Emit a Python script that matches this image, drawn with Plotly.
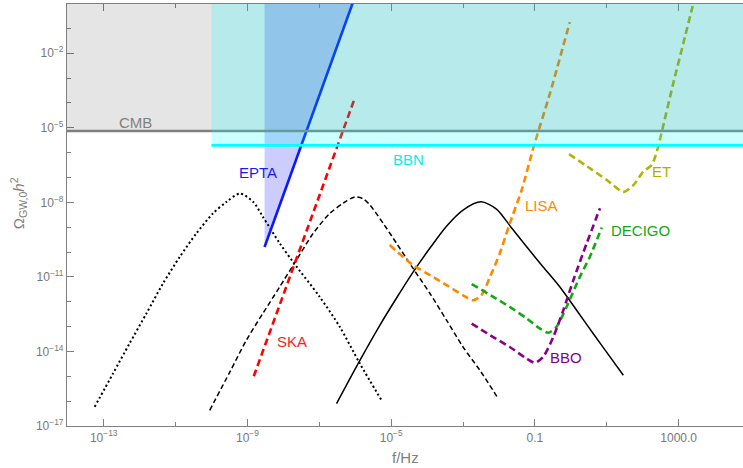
import numpy as np
import plotly.graph_objects as go

# ---------------- data (log10 f [Hz], log10 Omega h^2) ----------------
logf_dotted = [-13.25, -12.74, -12.28, -11.81, -11.35, -10.88, -10.42, -9.96, -9.58, -9.21,
               -8.84, -8.57, -8.10, -7.73, -6.99, -6.43, -5.87, -5.27]
logo_dotted = [-16.23, -14.89, -13.68, -12.47, -11.27, -10.19, -9.25, -8.45, -7.98, -7.65,
               -7.98, -8.58, -9.65, -10.40, -11.80, -13.01, -14.49, -15.96]

logf_dashed = [-10.05, -9.49, -9.03, -8.57, -8.10, -7.64, -7.17, -6.71, -6.34, -6.01, -5.78,
               -5.59, -5.22, -4.85, -4.39, -3.92, -3.46, -3.00, -2.53, -2.02]
logo_dashed = [-16.37, -14.83, -13.55, -12.47, -11.40, -10.33, -9.25, -8.45, -8.04, -7.78, -7.86,
               -8.11, -8.85, -9.65, -10.66, -11.67, -12.74, -13.82, -14.76, -15.90]

logf_solid = [-6.52, -5.92, -5.32, -4.85, -4.39, -3.92, -3.46, -3.00, -2.50, -2.07, -1.67,
              -1.23, -0.77, -0.31, 0.16, 0.62, 1.09, 1.46]
logo_solid = [-16.10, -14.49, -12.96, -11.85, -10.81, -9.84, -8.96, -8.31, -7.98, -8.27, -8.99,
              -9.79, -10.60, -11.40, -12.34, -13.28, -14.22, -14.96]

logf_lisa = [-5.04, -4.39, -3.92, -3.46, -3.00, -2.72, -2.49, -2.25, -1.98, -1.70, -1.37, -1.03, -0.58, -0.03]
logo_lisa = [-9.72, -10.53, -10.93, -11.33, -11.74, -11.94, -11.74, -11.00, -10.06, -8.85, -7.51, -5.74, -3.61, -0.75]

logf_decigo = [-2.76, -2.16, -1.70, -1.23, -0.86, -0.63, -0.40, -0.12, 0.25, 0.53, 0.86]
logo_decigo = [-11.29, -11.80, -12.21, -12.67, -13.08, -13.25, -13.01, -12.21, -11.00, -10.19, -9.01]

logf_bbo = [-2.76, -2.16, -1.70, -1.23, -1.00, -0.77, -0.49, -0.21, 0.07, 0.44, 0.81]
logo_bbo = [-12.88, -13.42, -13.82, -14.29, -14.46, -14.22, -13.42, -12.34, -11.13, -9.65, -8.24]

logf_et = [-0.05, 0.53, 1.00, 1.46, 1.74, 2.01, 2.25, 2.39, 2.53, 2.85, 3.13, 3.39]
logo_et = [-6.06, -6.63, -7.10, -7.58, -7.31, -6.77, -6.50, -5.96, -5.16, -3.21, -1.60, -0.10]

f_ska = [1.5e-9, 9.8e-7]
omega_ska = [1.0e-15, 1.6e-4]

f_epta = [3.0e-9, 1.0e-6]
omega_epta = [1.6e-10, 2.0]

omega_cmb = 7.4e-6
omega_bbn = 1.95e-6
f_bbn_min = 1.0e-10

x_tickvals = [1e-13, 1e-9, 1e-5, 0.1, 1000.0]
x_ticktext = ["10<sup>\u221213</sup>", "10<sup>\u22129</sup>", "10<sup>\u22125</sup>", "0.1", "1000.0"]
x_minor = [1e-11, 1e-7, 1e-3, 10.0]
y_tickvals = [1e-17, 1e-14, 1e-11, 1e-8, 1e-5, 1e-2]
y_ticktext = ["10<sup>\u221217</sup>", "10<sup>\u221214</sup>", "10<sup>\u221211</sup>",
              "10<sup>\u22128</sup>", "10<sup>\u22125</sup>", "10<sup>\u22122</sup>"]
y_minor = [10.0 ** e for e in range(-16, 0) if e % 3 != 1]

X_RANGE = [-14.02, 4.79]
Y_RANGE = [-17.0, -0.02]

FONT = "Liberation Sans, Arial, sans-serif"
GREY = "#808080"

def p(v):
    return list(10.0 ** np.array(v))

fig = go.Figure()

# black model spectra
fig.add_trace(go.Scatter(x=p(logf_dotted), y=p(logo_dotted), mode="lines",
                         line=dict(color="black", width=2.0, dash="2px,2.6px", shape="spline", smoothing=0.8)))
fig.add_trace(go.Scatter(x=p(logf_dashed), y=p(logo_dashed), mode="lines",
                         line=dict(color="black", width=1.5, dash="5px,3px", shape="spline", smoothing=0.8)))
fig.add_trace(go.Scatter(x=p(logf_solid), y=p(logo_solid), mode="lines",
                         line=dict(color="black", width=1.5, shape="spline", smoothing=0.8)))

# detectors
DASH = "7px,4px"
fig.add_trace(go.Scatter(x=f_ska, y=omega_ska, mode="lines",
                         line=dict(color="#ff0000", width=2.6, dash=DASH)))
fig.add_trace(go.Scatter(x=p(logf_lisa), y=p(logo_lisa), mode="lines",
                         line=dict(color="#ff8800", width=2.6, dash=DASH, shape="spline", smoothing=0.7)))
fig.add_trace(go.Scatter(x=p(logf_decigo), y=p(logo_decigo), mode="lines",
                         line=dict(color="#11aa11", width=2.6, dash=DASH, shape="spline", smoothing=0.7)))
fig.add_trace(go.Scatter(x=p(logf_bbo), y=p(logo_bbo), mode="lines",
                         line=dict(color="#880088", width=2.6, dash=DASH, shape="spline", smoothing=0.7)))
fig.add_trace(go.Scatter(x=p(logf_et), y=p(logo_et), mode="lines",
                         line=dict(color="#b3b300", width=2.6, dash=DASH, shape="spline", smoothing=0.7)))

# EPTA excluded region + bound
fig.add_trace(go.Scatter(x=[f_epta[0], f_epta[1], f_epta[0], f_epta[0]],
                         y=[omega_epta[0], omega_epta[1], omega_epta[1], omega_epta[0]],
                         mode="lines", fill="toself", fillcolor="rgba(0,0,255,0.2)",
                         line=dict(width=0, color="rgba(0,0,0,0)")))
fig.add_trace(go.Scatter(x=f_epta, y=omega_epta, mode="lines",
                         line=dict(color="#0a1aff", width=2.6)))

top = 10.0 ** Y_RANGE[1]
right = 10.0 ** X_RANGE[1]
shapes = [
    dict(type="rect", xref="x domain", yref="y", x0=0, x1=1, y0=omega_cmb, y1=top,
         fillcolor="rgba(0,0,0,0.1)", line=dict(width=0), layer="above"),
    dict(type="line", xref="x domain", yref="y", x0=0, x1=1, y0=omega_cmb, y1=omega_cmb,
         line=dict(color=GREY, width=2.5), layer="above"),
    dict(type="rect", xref="x", yref="y", x0=f_bbn_min, x1=right, y0=omega_bbn, y1=top,
         fillcolor="rgba(0,255,255,0.2)", line=dict(width=0), layer="above"),
    dict(type="line", xref="x", yref="y", x0=f_bbn_min, x1=right, y0=omega_bbn, y1=omega_bbn,
         line=dict(color="#00ffff", width=2.6), layer="above"),
]

labels = [
    ("CMB", -12.11, -4.77, GREY),
    ("EPTA", -8.71, -6.78, "#1a1aee"),
    ("BBN", -4.52, -6.26, "#00eeee"),
    ("SKA", -7.77, -13.59, "#ff1a1a"),
    ("LISA", -0.82, -8.11, "#ff8800"),
    ("ET", 2.51, -6.76, "#b0b000"),
    ("DECIGO", 1.95, -9.12, "#11aa11"),
    ("BBO", -0.14, -14.25, "#880088"),
]
annotations = [dict(text=t, x=x, y=y, xref="x", yref="y", showarrow=False,
                    xanchor="center", yanchor="middle",
                    font=dict(family=FONT, size=15, color=c)) for t, x, y, c in labels]
annotations.append(dict(text="f/Hz", xref="paper", yref="paper", x=0.501, y=-0.074,
                        xanchor="center", yanchor="middle",
                        showarrow=False, font=dict(family=FONT, size=15, color=GREY)))
annotations.append(dict(text="\u03a9<sub>GW,0</sub><i>h</i><sup>2</sup>", xref="paper", yref="paper",
                        x=-0.0725, y=0.528, textangle=-90, showarrow=False,
                        xanchor="center", yanchor="middle",
                        font=dict(family=FONT, size=15, color=GREY)))

fig.update_layout(
    width=743, height=468,
    margin=dict(l=67, r=0, t=4, b=42),
    paper_bgcolor="white", plot_bgcolor="white",
    showlegend=False,
    shapes=shapes, annotations=annotations,
    font=dict(family=FONT, size=12, color="#777777"),
    xaxis=dict(type="log", range=X_RANGE, tickmode="array", tickvals=x_tickvals, ticktext=x_ticktext,
               ticks="inside", ticklen=7, tickcolor=GREY, showline=True, linecolor=GREY, linewidth=1.2,
               mirror="ticks", showgrid=False, zeroline=False,
               minor=dict(tickmode="array", tickvals=x_minor, ticks="inside", ticklen=4, tickcolor=GREY,
                          showgrid=False),
               tickfont=dict(family=FONT, size=12, color="#777777")),
    yaxis=dict(type="log", range=Y_RANGE, tickmode="array", tickvals=y_tickvals, ticktext=y_ticktext,
               ticks="inside", ticklen=7, tickcolor=GREY, showline=True, linecolor=GREY, linewidth=1.2,
               showgrid=False, zeroline=False,
               minor=dict(tickmode="array", tickvals=y_minor, ticks="inside", ticklen=4, tickcolor=GREY,
                          showgrid=False),
               tickfont=dict(family=FONT, size=12, color="#777777")),
)

fig.write_html("out.html", config={"displayModeBar": False},
               post_script="document.body.style.margin='0px';")
